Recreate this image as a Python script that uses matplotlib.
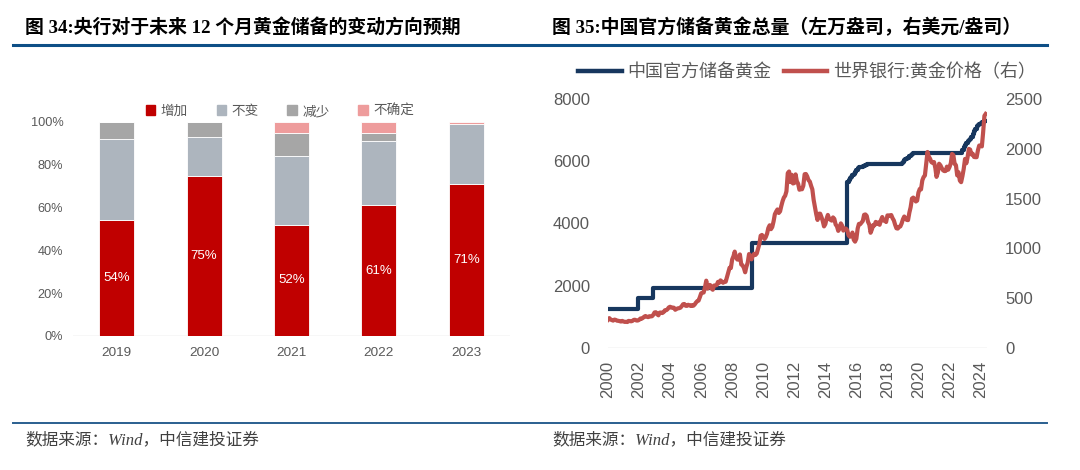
import matplotlib.pyplot as plt
import matplotlib.patches as mpatches
import matplotlib.lines as mlines
import matplotlib.dates as mdates
import pandas as pd

plt.rcParams['font.family'] = ['Liberation Sans', 'Noto Sans CJK SC']

# ---------- left chart data: expected change in gold reserves (%) ----------
years = ['2019', '2020', '2021', '2022', '2023']
increase = [54, 75, 52, 61, 71]
unchanged = [38, 18, 32, 30, 28]
decrease = [8, 7, 11, 4, 0]
uncertain = [0, 0, 5, 5, 1]

# ---------- right chart data ----------
# China official gold reserves (10k oz), change points
reserve_dates = ['2000-01', '2001-12', '2002-12', '2009-04', '2015-06', '2015-07', '2015-08',
                 '2015-09', '2015-10', '2015-11', '2015-12', '2016-01', '2016-02', '2016-03',
                 '2016-04', '2016-05', '2016-06', '2016-07', '2016-08', '2016-09', '2016-10',
                 '2018-12', '2019-01', '2019-02', '2019-03', '2019-04', '2019-05', '2019-06',
                 '2019-07', '2019-08', '2019-09', '2022-11', '2022-12', '2023-01', '2023-02',
                 '2023-03', '2023-04', '2023-05', '2023-06', '2023-07', '2023-08', '2023-09',
                 '2023-10', '2023-11', '2023-12', '2024-01', '2024-02', '2024-03', '2024-04',
                 '2024-05']
reserve_vals = [1267, 1608, 1929, 3389, 5331, 5393, 5450,
                5497, 5557, 5605, 5666, 5719, 5779, 5812,
                5819, 5827, 5839, 5862, 5886, 5904, 5924,
                5956, 5979, 6026, 6062, 6092, 6116, 6161,
                6194, 6224, 6264, 6367, 6464, 6512, 6592,
                6650, 6676, 6727, 6795, 6869, 6962, 7046,
                7120, 7158, 7187, 7219, 7258, 7274, 7280,
                7280]

# World Bank gold price (USD/oz), monthly from 2000-01
gold_price = [
    284, 300, 286, 280, 275, 285, 282, 274, 273, 270, 266, 272,
    266, 262, 263, 261, 272, 270, 268, 273, 283, 283, 276, 276,
    282, 296, 294, 302, 314, 321, 314, 310, 319, 317, 319, 333,
    357, 359, 340, 328, 355, 356, 351, 360, 379, 379, 389, 407,
    414, 405, 406, 404, 384, 392, 398, 400, 405, 420, 439, 442,
    424, 423, 434, 429, 422, 430, 424, 437, 456, 470, 476, 510,
    549, 555, 557, 610, 676, 596, 633, 632, 598, 585, 627, 629,
    631, 664, 655, 679, 667, 655, 665, 665, 712, 754, 806, 803,
    889, 922, 968, 909, 888, 889, 939, 839, 829, 806, 760, 816,
    858, 943, 924, 890, 928, 946, 934, 949, 996, 1043, 1127, 1135,
    1118, 1095, 1113, 1148, 1205, 1232, 1193, 1215, 1271, 1343, 1370, 1391,
    1356, 1372, 1424, 1474, 1510, 1529, 1573, 1756, 1772, 1666, 1739, 1652,
    1656, 1743, 1675, 1649, 1589, 1596, 1594, 1630, 1745, 1747, 1722, 1685,
    1671, 1627, 1593, 1487, 1414, 1343, 1286, 1348, 1349, 1316, 1275, 1221,
    1244, 1300, 1336, 1299, 1287, 1279, 1311, 1296, 1239, 1223, 1176, 1201,
    1251, 1227, 1179, 1198, 1199, 1182, 1131, 1117, 1125, 1159, 1086, 1068,
    1097, 1200, 1246, 1243, 1260, 1276, 1337, 1341, 1326, 1267, 1238, 1157,
    1192, 1234, 1231, 1266, 1246, 1260, 1237, 1283, 1315, 1280, 1283, 1265,
    1331, 1331, 1325, 1335, 1304, 1281, 1238, 1202, 1199, 1215, 1221, 1250,
    1292, 1320, 1301, 1286, 1284, 1359, 1413, 1500, 1510, 1495, 1471, 1480,
    1561, 1597, 1592, 1683, 1716, 1732, 1847, 1968, 1921, 1900, 1866, 1858,
    1867, 1808, 1718, 1760, 1850, 1834, 1807, 1785, 1776, 1777, 1821, 1790,
    1817, 1856, 1948, 1937, 1849, 1836, 1733, 1765, 1681, 1665, 1726, 1798,
    1898, 1855, 1912, 1999, 1992, 1943, 1951, 1918, 1916, 1916, 1986, 2033,
    2033, 2024, 2160, 2331, 2350]

TICK = '#595959'
BAR_COLORS = ['#C00000', '#ADB5BE', '#A6A6A6', '#EE9C9C']
HEAD_BLUE = '#0E4F86'
CJK_SERIF = ['Liberation Serif', 'Noto Sans CJK SC']

fig = plt.figure(figsize=(10.8, 4.7), dpi=100)
W, H = 1080, 470


def px_axes(x0, y_top, x1, y_bot):
    return fig.add_axes([x0 / W, 1 - y_bot / H, (x1 - x0) / W, (y_bot - y_top) / H])


# header / footer decoration
fig.add_artist(mlines.Line2D([13 / W, 1047 / W], [1 - 45 / H] * 2, color=HEAD_BLUE, lw=2.2))
fig.add_artist(mlines.Line2D([13 / W, 1047 / W], [1 - 422.5 / H] * 2, color='#2A5F8F', lw=1.4))
fig.text(25 / W, 1 - 27 / H, '图 34:央行对于未来 12 个月黄金储备的变动方向预期',
         family=CJK_SERIF, weight='bold', fontsize=13.6, va='center', ha='left')
fig.text(552 / W, 1 - 27 / H, '图 35:中国官方储备黄金总量（左万盎司，右美元/盎司）',
         family=CJK_SERIF, weight='bold', fontsize=13.6, va='center', ha='left')
for fx in (25, 552):
    fig.text(fx / W, 1 - 440 / H, '数据来源：Wind，中信建投证券', family=CJK_SERIF,
             style='italic', fontsize=12, color='#404040', va='center', ha='left')

# ---------- left: stacked bars ----------
ax1 = px_axes(73, 122, 510, 336)
x = range(len(years))
bottom = [0] * len(years)
names = ['增加', '不变', '减少', '不确定']
series = [increase, unchanged, decrease, uncertain]
bar_sets = []
for vals, col in zip(series, BAR_COLORS):
    b = ax1.bar(x, vals, bottom=bottom, width=0.4, color=col, edgecolor='white', linewidth=0.6)
    bar_sets.append(b)
    bottom = [p + v for p, v in zip(bottom, vals)]
ax1.bar_label(bar_sets[0], labels=[f'{v}%' for v in increase], label_type='center',
              color='white', fontsize=9.5)
ax1.set_xlim(-0.5, len(years) - 0.5)
ax1.set_ylim(0, 100)
ax1.set_yticks(range(0, 101, 20))
ax1.set_yticklabels([f'{v}%' for v in range(0, 101, 20)])
ax1.set_xticks(list(x))
ax1.set_xticklabels(years)
ax1.tick_params(axis='y', length=0, pad=7, labelsize=9.2, labelcolor=TICK)
ax1.tick_params(axis='x', length=0, pad=8, labelsize=9.7, labelcolor=TICK)
for s in ax1.spines.values():
    s.set_visible(False)
ax1.axhline(0, color='#D9D9D9', lw=1, zorder=0)
handles = [mpatches.Patch(color=c, label=n) for c, n in zip(BAR_COLORS, names)]
fig.legend(handles=handles, loc='center', bbox_to_anchor=(280 / W, 1 - 111 / H), ncol=4,
           frameon=False, fontsize=9.8, handlelength=0.7, handleheight=0.7,
           handletextpad=0.4, columnspacing=2.1, labelcolor=TICK)

# ---------- right: reserves and gold price ----------
ax2 = px_axes(608, 99, 987, 348)
res_dates = pd.to_datetime(reserve_dates)
price_dates = pd.date_range('2000-01-01', periods=len(gold_price), freq='MS')
ax2.plot(res_dates, reserve_vals, color='#17375E', lw=3, drawstyle='steps-post')
ax2.set_ylim(0, 8000)
ax2.set_yticks(range(0, 8001, 2000))
ax3 = ax2.twinx()
ax3.plot(price_dates, gold_price, color='#C0504D', lw=3)
ax3.set_ylim(0, 2500)
ax3.set_yticks(range(0, 2501, 500))
ax2.set_xlim(pd.Timestamp('2000-01-01'), pd.Timestamp('2024-06-01'))
ax2.xaxis.set_major_locator(mdates.YearLocator(2))
ax2.xaxis.set_major_formatter(mdates.DateFormatter('%Y'))
ax2.tick_params(axis='x', length=0, pad=9, labelsize=12, labelcolor=TICK, labelrotation=90)
ax2.tick_params(axis='y', length=0, pad=13, labelsize=12, labelcolor=TICK)
ax3.tick_params(axis='y', length=0, pad=13, labelsize=12, labelcolor=TICK)
for a in (ax2, ax3):
    for s in a.spines.values():
        s.set_visible(False)
ax2.axhline(0, color='#D9D9D9', lw=1, zorder=0)
leg_handles = [mlines.Line2D([], [], color='#17375E', lw=3.2, label='中国官方储备黄金'),
               mlines.Line2D([], [], color='#C0504D', lw=3.2, label='世界银行:黄金价格（右）')]
fig.legend(handles=leg_handles, loc='center', bbox_to_anchor=(807 / W, 1 - 73 / H), ncol=2,
           frameon=False, fontsize=13, handlelength=2.4, handletextpad=0.3,
           columnspacing=0.7, labelcolor=TICK)

fig.savefig('out.png', dpi=100)
